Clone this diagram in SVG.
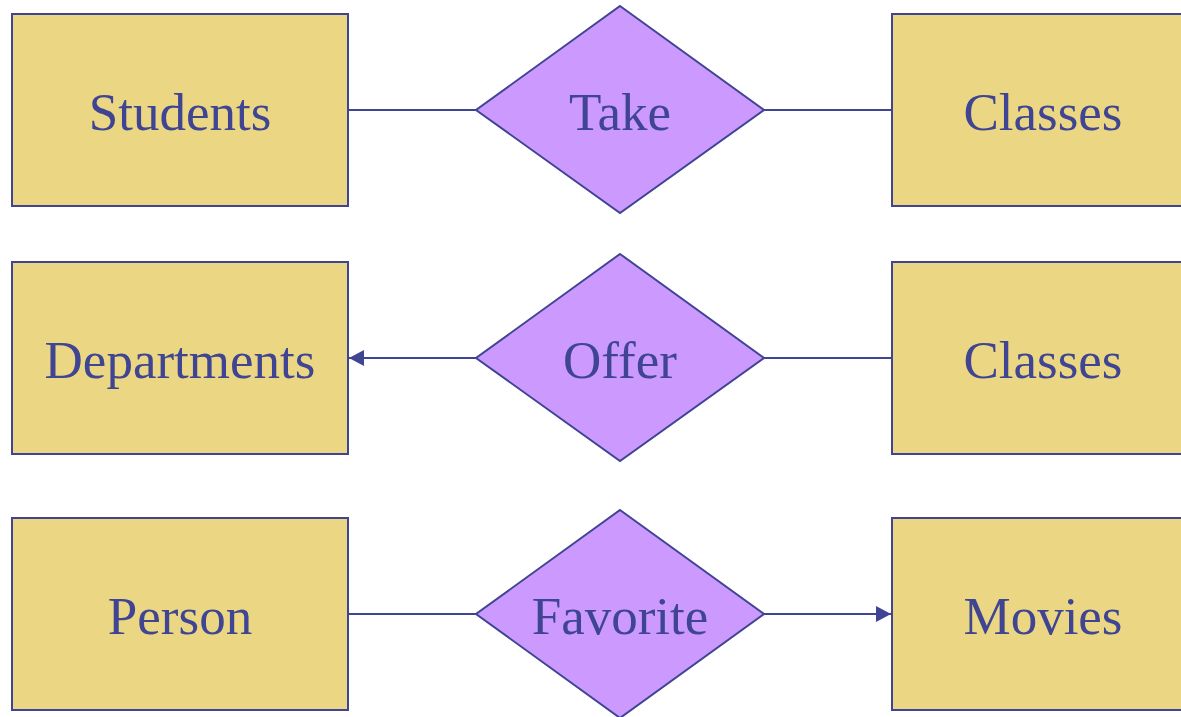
<svg xmlns="http://www.w3.org/2000/svg" width="1181" height="717" viewBox="0 0 1181 717">
  <style>
    .entity { fill: #EBD783; stroke: #3F4592; stroke-width: 2; }
    .rel { fill: #CC99FF; stroke: #3F4592; stroke-width: 2; }
    .label { font-family: "Liberation Serif", "Times New Roman", serif; font-size: 53px; fill: #3F4592; text-anchor: middle; }
    .edge { stroke: #3F4592; stroke-width: 2; fill: none; }
  </style>
  <defs>
    <marker id="arrow" viewBox="0 0 15 16" refX="15" refY="8" markerWidth="15" markerHeight="16" markerUnits="userSpaceOnUse" orient="auto">
      <path d="M0,0 L15,8 L0,16 Z" fill="#3F4592"/>
    </marker>
  </defs>
  <rect width="1181" height="717" fill="#FFFFFF"/>

  <!-- connectors -->
  <g id="connectors">
    <line class="edge" x1="348" y1="110" x2="476" y2="110"/>
    <line class="edge" x1="764" y1="110" x2="892" y2="110"/>
    <line class="edge" x1="476" y1="358" x2="349" y2="358" marker-end="url(#arrow)"/>
    <line class="edge" x1="764" y1="358" x2="892" y2="358"/>
    <line class="edge" x1="348" y1="614" x2="476" y2="614"/>
    <line class="edge" x1="764" y1="614" x2="891" y2="614" marker-end="url(#arrow)"/>
  </g>

  <!-- row 1 -->
  <g id="students">
    <rect class="entity" x="12" y="14" width="336" height="192"/>
    <text class="label" x="180" y="130">Students</text>
  </g>
  <g id="take">
    <polygon class="rel" points="620,6 764,110 620,213 476,110"/>
    <text class="label" x="620" y="130">Take</text>
  </g>
  <g id="classes1">
    <rect class="entity" x="892" y="14" width="302" height="192"/>
    <text class="label" x="1043" y="130">Classes</text>
  </g>

  <!-- row 2 -->
  <g id="departments">
    <rect class="entity" x="12" y="262" width="336" height="192"/>
    <text class="label" x="180" y="378">Departments</text>
  </g>
  <g id="offer">
    <polygon class="rel" points="620,254 764,358 620,461 476,358"/>
    <text class="label" x="620" y="378">Offer</text>
  </g>
  <g id="classes2">
    <rect class="entity" x="892" y="262" width="302" height="192"/>
    <text class="label" x="1043" y="378">Classes</text>
  </g>

  <!-- row 3 -->
  <g id="person">
    <rect class="entity" x="12" y="518" width="336" height="192"/>
    <text class="label" x="180" y="634">Person</text>
  </g>
  <g id="favorite">
    <polygon class="rel" points="620,510 764,614 620,718 476,614"/>
    <text class="label" x="620" y="634">Favorite</text>
  </g>
  <g id="movies">
    <rect class="entity" x="892" y="518" width="302" height="192"/>
    <text class="label" x="1043" y="634">Movies</text>
  </g>
</svg>
